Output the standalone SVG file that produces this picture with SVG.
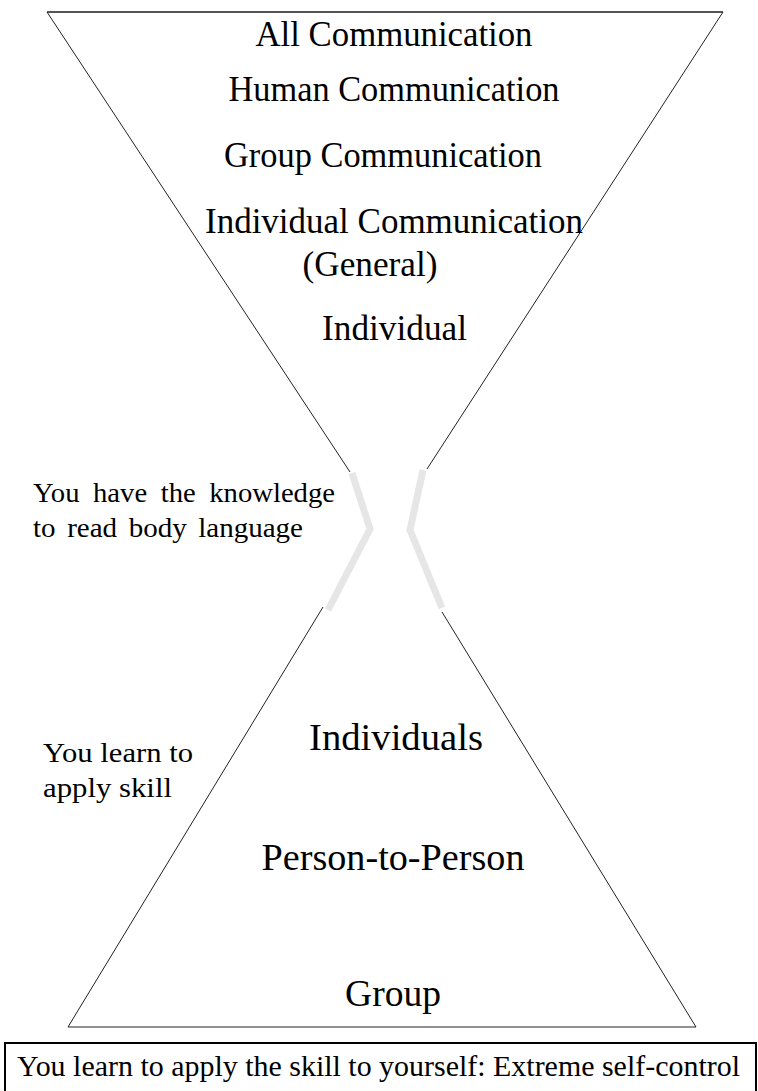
<svg xmlns="http://www.w3.org/2000/svg" width="758" height="1091" viewBox="0 0 758 1091">
<style>
.t{font-family:"Liberation Serif","Times New Roman",serif;fill:#000}
.big{font-size:35px;text-anchor:middle}
.low{font-size:38px;text-anchor:middle}
.side{font-size:27px}
.edge{fill:none;stroke:#222;stroke-width:1}
.neck{fill:none;stroke:#e6e6e6;stroke-width:7;stroke-linejoin:miter}
</style>
<rect width="758" height="1091" fill="#fff"/>
<g id="connectors">
<line x1="47" y1="12" x2="723" y2="12" style="stroke:#555;stroke-width:2"/>
<line class="edge" x1="47" y1="12" x2="350" y2="472"/>
<line class="edge" x1="723" y1="12" x2="427" y2="469"/>
<polyline class="neck" points="352,473 370,529 328,610"/>
<polyline class="neck" points="423,470 410,530 442,608"/>
<polyline class="edge" points="323,607 68,1027 696,1027 442,612"/>
</g>
<g id="top-funnel">
<text class="t big" x="394" y="46" textLength="277" lengthAdjust="spacingAndGlyphs">All Communication</text>
<text class="t big" x="394" y="101" textLength="331" lengthAdjust="spacingAndGlyphs">Human Communication</text>
<text class="t big" x="383" y="167" textLength="318" lengthAdjust="spacingAndGlyphs">Group Communication</text>
<text class="t big" x="394" y="233" textLength="378" lengthAdjust="spacingAndGlyphs">Individual Communication</text>
<text class="t big" x="370" y="276" textLength="135" lengthAdjust="spacingAndGlyphs">(General)</text>
<text class="t big" x="394.5" y="340" textLength="145" lengthAdjust="spacingAndGlyphs">Individual</text>
</g>
<g id="knowledge-label">
<text class="t side" x="33" y="502" textLength="302" lengthAdjust="spacingAndGlyphs" word-spacing="6">You have the knowledge</text>
<text class="t side" x="33" y="537" textLength="270" lengthAdjust="spacingAndGlyphs" word-spacing="4">to read body language</text>
</g>
<g id="skill-label">
<text class="t side" x="43" y="762" textLength="150" lengthAdjust="spacingAndGlyphs">You learn to</text>
<text class="t side" x="43" y="797" textLength="129" lengthAdjust="spacingAndGlyphs">apply skill</text>
</g>
<g id="bottom-funnel">
<text class="t low" x="396" y="750" textLength="174" lengthAdjust="spacingAndGlyphs">Individuals</text>
<text class="t low" x="393" y="870" textLength="263" lengthAdjust="spacingAndGlyphs">Person-to-Person</text>
<text class="t low" x="393" y="1006" textLength="96" lengthAdjust="spacingAndGlyphs">Group</text>
</g>
<g id="self-control-box">
<rect x="5" y="1043" width="751" height="60" fill="none" stroke="#000" stroke-width="2"/>
<text class="t" x="17" y="1076" font-size="29" textLength="723" lengthAdjust="spacingAndGlyphs">You learn to apply the skill to yourself: Extreme self-control</text>
</g>
</svg>
